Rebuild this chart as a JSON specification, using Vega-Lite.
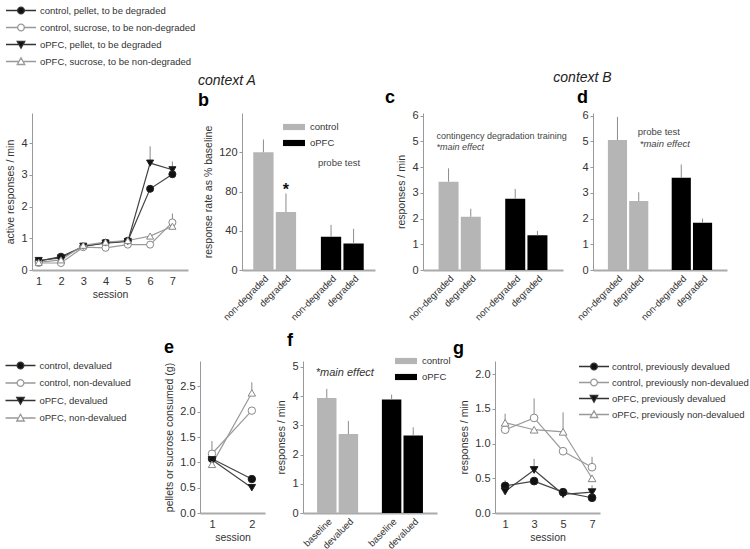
{
  "$schema": "https://vega.github.io/schema/vega-lite/v6.json",
  "autosize": {"type": "none"},
  "padding": {"left": 32, "top": 113, "right": 718, "bottom": 436},
  "background": "white",
  "datasets": {
    "lineA": [
      {"session": 1, "value": 0.28, "upper": 0.28, "group": "control", "treat": "degraded", "series": "control, pellet, to be degraded"},
      {"session": 2, "value": 0.42, "upper": 0.42, "group": "control", "treat": "degraded", "series": "control, pellet, to be degraded"},
      {"session": 3, "value": 0.74, "upper": 0.74, "group": "control", "treat": "degraded", "series": "control, pellet, to be degraded"},
      {"session": 4, "value": 0.86, "upper": 0.86, "group": "control", "treat": "degraded", "series": "control, pellet, to be degraded"},
      {"session": 5, "value": 0.92, "upper": 0.92, "group": "control", "treat": "degraded", "series": "control, pellet, to be degraded"},
      {"session": 6, "value": 2.56, "upper": 2.56, "group": "control", "treat": "degraded", "series": "control, pellet, to be degraded"},
      {"session": 7, "value": 3.02, "upper": 3.02, "group": "control", "treat": "degraded", "series": "control, pellet, to be degraded"},
      {"session": 1, "value": 0.22, "upper": 0.22, "group": "control", "treat": "non-degraded", "series": "control, sucrose, to be non-degraded"},
      {"session": 2, "value": 0.22, "upper": 0.22, "group": "control", "treat": "non-degraded", "series": "control, sucrose, to be non-degraded"},
      {"session": 3, "value": 0.72, "upper": 0.72, "group": "control", "treat": "non-degraded", "series": "control, sucrose, to be non-degraded"},
      {"session": 4, "value": 0.7, "upper": 0.7, "group": "control", "treat": "non-degraded", "series": "control, sucrose, to be non-degraded"},
      {"session": 5, "value": 0.8, "upper": 0.8, "group": "control", "treat": "non-degraded", "series": "control, sucrose, to be non-degraded"},
      {"session": 6, "value": 0.8, "upper": 0.8, "group": "control", "treat": "non-degraded", "series": "control, sucrose, to be non-degraded"},
      {"session": 7, "value": 1.5, "upper": 1.78, "group": "control", "treat": "non-degraded", "series": "control, sucrose, to be non-degraded"},
      {"session": 1, "value": 0.3, "upper": 0.3, "group": "oPFC", "treat": "degraded", "series": "oPFC, pellet, to be degraded"},
      {"session": 2, "value": 0.38, "upper": 0.38, "group": "oPFC", "treat": "degraded", "series": "oPFC, pellet, to be degraded"},
      {"session": 3, "value": 0.75, "upper": 0.75, "group": "oPFC", "treat": "degraded", "series": "oPFC, pellet, to be degraded"},
      {"session": 4, "value": 0.85, "upper": 0.85, "group": "oPFC", "treat": "degraded", "series": "oPFC, pellet, to be degraded"},
      {"session": 5, "value": 0.9, "upper": 0.9, "group": "oPFC", "treat": "degraded", "series": "oPFC, pellet, to be degraded"},
      {"session": 6, "value": 3.37, "upper": 3.9, "group": "oPFC", "treat": "degraded", "series": "oPFC, pellet, to be degraded"},
      {"session": 7, "value": 3.16, "upper": 3.42, "group": "oPFC", "treat": "degraded", "series": "oPFC, pellet, to be degraded"},
      {"session": 1, "value": 0.24, "upper": 0.24, "group": "oPFC", "treat": "non-degraded", "series": "oPFC, sucrose, to be non-degraded"},
      {"session": 2, "value": 0.32, "upper": 0.32, "group": "oPFC", "treat": "non-degraded", "series": "oPFC, sucrose, to be non-degraded"},
      {"session": 3, "value": 0.78, "upper": 0.78, "group": "oPFC", "treat": "non-degraded", "series": "oPFC, sucrose, to be non-degraded"},
      {"session": 4, "value": 0.88, "upper": 0.88, "group": "oPFC", "treat": "non-degraded", "series": "oPFC, sucrose, to be non-degraded"},
      {"session": 5, "value": 0.93, "upper": 0.93, "group": "oPFC", "treat": "non-degraded", "series": "oPFC, sucrose, to be non-degraded"},
      {"session": 6, "value": 1.07, "upper": 1.07, "group": "oPFC", "treat": "non-degraded", "series": "oPFC, sucrose, to be non-degraded"},
      {"session": 7, "value": 1.38, "upper": 1.38, "group": "oPFC", "treat": "non-degraded", "series": "oPFC, sucrose, to be non-degraded"}
    ],
    "lineE": [
      {"session": 1, "value": 1.07, "upper": 1.07, "group": "control", "treat": "devalued", "series": "control, devalued"},
      {"session": 2, "value": 0.67, "upper": 0.67, "group": "control", "treat": "devalued", "series": "control, devalued"},
      {"session": 1, "value": 1.17, "upper": 1.42, "group": "control", "treat": "non-devalued", "series": "control, non-devalued"},
      {"session": 2, "value": 2.02, "upper": 2.02, "group": "control", "treat": "non-devalued", "series": "control, non-devalued"},
      {"session": 1, "value": 1.05, "upper": 1.05, "group": "oPFC", "treat": "devalued", "series": "oPFC, devalued"},
      {"session": 2, "value": 0.5, "upper": 0.5, "group": "oPFC", "treat": "devalued", "series": "oPFC, devalued"},
      {"session": 1, "value": 0.96, "upper": 0.96, "group": "oPFC", "treat": "non-devalued", "series": "oPFC, non-devalued"},
      {"session": 2, "value": 2.37, "upper": 2.58, "group": "oPFC", "treat": "non-devalued", "series": "oPFC, non-devalued"}
    ],
    "lineG": [
      {"session": 1, "value": 0.39, "upper": 0.47, "group": "control", "treat": "devalued", "series": "control, previously devalued"},
      {"session": 3, "value": 0.46, "upper": 0.46, "group": "control", "treat": "devalued", "series": "control, previously devalued"},
      {"session": 5, "value": 0.3, "upper": 0.3, "group": "control", "treat": "devalued", "series": "control, previously devalued"},
      {"session": 7, "value": 0.22, "upper": 0.22, "group": "control", "treat": "devalued", "series": "control, previously devalued"},
      {"session": 1, "value": 1.2, "upper": 1.2, "group": "control", "treat": "non-devalued", "series": "control, previously non-devalued"},
      {"session": 3, "value": 1.37, "upper": 1.65, "group": "control", "treat": "non-devalued", "series": "control, previously non-devalued"},
      {"session": 5, "value": 0.89, "upper": 0.89, "group": "control", "treat": "non-devalued", "series": "control, previously non-devalued"},
      {"session": 7, "value": 0.66, "upper": 0.81, "group": "control", "treat": "non-devalued", "series": "control, previously non-devalued"},
      {"session": 1, "value": 0.31, "upper": 0.31, "group": "oPFC", "treat": "devalued", "series": "oPFC, previously devalued"},
      {"session": 3, "value": 0.62, "upper": 0.78, "group": "oPFC", "treat": "devalued", "series": "oPFC, previously devalued"},
      {"session": 5, "value": 0.27, "upper": 0.27, "group": "oPFC", "treat": "devalued", "series": "oPFC, previously devalued"},
      {"session": 7, "value": 0.3, "upper": 0.4, "group": "oPFC", "treat": "devalued", "series": "oPFC, previously devalued"},
      {"session": 1, "value": 1.3, "upper": 1.43, "group": "oPFC", "treat": "non-devalued", "series": "oPFC, previously non-devalued"},
      {"session": 3, "value": 1.2, "upper": 1.2, "group": "oPFC", "treat": "non-devalued", "series": "oPFC, previously non-devalued"},
      {"session": 5, "value": 1.17, "upper": 1.45, "group": "oPFC", "treat": "non-devalued", "series": "oPFC, previously non-devalued"},
      {"session": 7, "value": 0.5, "upper": 0.5, "group": "oPFC", "treat": "non-devalued", "series": "oPFC, previously non-devalued"}
    ],
    "barB": [
      {"bar": "control|non-degraded", "group": "control", "value": 120, "upper": 133},
      {"bar": "control|degraded", "group": "control", "value": 59, "upper": 78},
      {"bar": "oPFC|non-degraded", "group": "oPFC", "value": 34, "upper": 46},
      {"bar": "oPFC|degraded", "group": "oPFC", "value": 27, "upper": 42}
    ],
    "barC": [
      {"bar": "control|non-degraded", "group": "control", "value": 3.43, "upper": 3.95},
      {"bar": "control|degraded", "group": "control", "value": 2.07, "upper": 2.38},
      {"bar": "oPFC|non-degraded", "group": "oPFC", "value": 2.77, "upper": 3.15},
      {"bar": "oPFC|degraded", "group": "oPFC", "value": 1.35, "upper": 1.52}
    ],
    "barD": [
      {"bar": "control|non-degraded", "group": "control", "value": 5.05, "upper": 5.95},
      {"bar": "control|degraded", "group": "control", "value": 2.68, "upper": 3.02},
      {"bar": "oPFC|non-degraded", "group": "oPFC", "value": 3.58, "upper": 4.1},
      {"bar": "oPFC|degraded", "group": "oPFC", "value": 1.84, "upper": 2.0}
    ],
    "barF": [
      {"bar": "control|baseline", "group": "control", "value": 3.93, "upper": 4.25},
      {"bar": "control|devalued", "group": "control", "value": 2.7, "upper": 3.15},
      {"bar": "oPFC|baseline", "group": "oPFC", "value": 3.88, "upper": 4.05},
      {"bar": "oPFC|devalued", "group": "oPFC", "value": 2.65, "upper": 2.93}
    ]
  },
  "config": {
    "font": "Liberation Sans, Arial, sans-serif",
    "view": {"stroke": null},
    "axis": {"labelFont": "Liberation Sans, Arial, sans-serif", "labelFontSize": 11, "labelColor": "#333", "titleFont": "Liberation Sans, Arial, sans-serif", "titleFontSize": 10.5, "titleFontWeight": "normal", "titleColor": "#333", "domainColor": "#999", "tickColor": "#999", "tickSize": 3, "grid": false, "labelPadding": 2, "titlePadding": 5},
    "axisX": {"domainWidth": 2, "domainColor": "#aaa", "ticks": false, "labelPadding": 5, "titlePadding": 3},
    "axisBand": {"labelFontSize": 9.5, "labelPadding": 3},
    "title": {"font": "Liberation Sans, Arial, sans-serif", "fontSize": 18, "fontWeight": "bold", "color": "#000", "anchor": "start", "frame": "group", "offset": 3},
    "legend": {"padding": 0, "labelColor": "#333", "labelFont": "Liberation Sans, Arial, sans-serif"}
  },
  "resolve": {"scale": {"color": "independent", "shape": "independent", "fill": "independent", "stroke": "independent"}, "legend": {"color": "independent", "shape": "independent", "fill": "independent", "stroke": "independent"}},
  "spacing": 10,
  "vconcat": [
    {
      "bounds": "flush",
      "spacing": 0,
      "resolve": {"scale": {"color": "independent", "shape": "independent", "fill": "independent", "stroke": "independent"}, "legend": {"color": "independent", "shape": "independent", "fill": "independent", "stroke": "independent"}},
      "hconcat": [
        {
          "width": 156, "height": 157,
          "title": {"text": "a", "dx": -29},
          "data": {"name": "lineA"},
          "encoding": {
            "x": {"field": "session", "type": "quantitative", "scale": {"domain": [0.7, 7.7], "nice": false, "zero": false}, "axis": {"values": [1, 2, 3, 4, 5, 6, 7], "format": "d", "title": "session"}},
            "y": {"field": "value", "type": "quantitative", "scale": {"domain": [0, 4.95], "nice": false}, "axis": {"values": [0, 1, 2, 3, 4], "title": "active responses / min"}}
          },
          "layer": [
            {"mark": {"type": "line", "strokeWidth": 1.2}, "encoding": {"detail": {"field": "series"}, "stroke": {"condition": {"test": "datum.treat=='degraded'", "value": "#444"}, "value": "#9a9a9a"}}},
            {"mark": {"type": "rule", "color": "#888", "strokeWidth": 1}, "encoding": {"y2": {"field": "upper"}}},
            {"mark": {"type": "point", "filled": true, "size": 50, "strokeWidth": 1, "opacity": 1},
             "encoding": {
               "shape": {"condition": [{"test": "datum.group=='control'", "value": "circle"}, {"test": "datum.treat=='degraded'", "value": "triangle-down"}], "value": "triangle-up"},
               "fill": {"condition": {"test": "datum.treat=='degraded'", "value": "#111"}, "value": "#fff"},
               "stroke": {"condition": {"test": "datum.treat=='degraded'", "value": "#222"}, "value": "#888"}
             }},
            {"data": {"values": []}, "mark": {"type": "point", "filled": true, "size": 225, "opacity": 1},
             "encoding": {
               "x": {"value": 0}, "y": {"value": 0},
               "shape": {"field": "series", "type": "nominal", "scale": {"domain": ["control, pellet, to be degraded", "control, sucrose, to be non-degraded", "oPFC, pellet, to be degraded", "oPFC, sucrose, to be non-degraded"], "range": ["M-2,0L-0.45,0M0.45,0L2,0M0.45,0A0.45,0.45,0,1,1,-0.45,0A0.45,0.45,0,1,1,0.45,0Z", "M-2,0L-0.45,0M0.45,0L2,0M0.45,0A0.45,0.45,0,1,1,-0.45,0A0.45,0.45,0,1,1,0.45,0Z", "M-2,0L-0.3,0M0.3,0L2,0M-0.5,-0.4L0.5,-0.4L0,0.5Z", "M-2,0L-0.3,0M0.3,0L2,0M-0.5,0.4L0.5,0.4L0,-0.5Z"]},
                 "legend": {"title": null, "orient": "none", "legendX": -19.5, "legendY": -111, "labelOffset": 10.5, "rowPadding": 2, "symbolSize": 225, "symbolStrokeWidth": 1.3, "symbolOpacity": 1, "labelFontSize": 9.5, "labelLimit": 300}},
               "fill": {"field": "series", "type": "nominal", "scale": {"domain": ["control, pellet, to be degraded", "control, sucrose, to be non-degraded", "oPFC, pellet, to be degraded", "oPFC, sucrose, to be non-degraded"], "range": ["#111", "#fff", "#111", "#fff"]},
                 "legend": {"title": null, "orient": "none", "legendX": -19.5, "legendY": -111, "labelOffset": 10.5, "rowPadding": 2, "symbolSize": 225, "symbolStrokeWidth": 1.3, "symbolOpacity": 1, "labelFontSize": 9.5, "labelLimit": 300}},
               "stroke": {"field": "series", "type": "nominal", "scale": {"domain": ["control, pellet, to be degraded", "control, sucrose, to be non-degraded", "oPFC, pellet, to be degraded", "oPFC, sucrose, to be non-degraded"], "range": ["#333", "#999", "#333", "#999"]},
                 "legend": {"title": null, "orient": "none", "legendX": -19.5, "legendY": -111, "labelOffset": 10.5, "rowPadding": 2, "symbolSize": 225, "symbolStrokeWidth": 1.3, "symbolOpacity": 1, "labelFontSize": 9.5, "labelLimit": 300}}
             }}
          ]
        },
        {"width": 54, "height": 157, "data": {"values": []}, "mark": "point"},
        {
          "width": 133, "height": 157,
          "title": {"text": "context A", "subtitle": "\u2002b", "dx": -44, "fontSize": 14, "fontStyle": "italic", "fontWeight": "normal", "color": "#222", "subtitleFont": "Liberation Sans, Arial, sans-serif", "subtitleFontSize": 18, "subtitleFontWeight": "bold", "subtitleColor": "#000", "subtitlePadding": 4},
          "data": {"name": "barB"},
          "encoding": {
            "x": {"field": "bar", "type": "nominal", "sort": null, "scale": {"domain": ["control|non-degraded", "control|degraded", "gap|", "oPFC|non-degraded", "oPFC|degraded"], "paddingInner": 0.1, "paddingOuter": 0.5}, "axis": {"title": null, "labelAngle": -45, "labelExpr": "split(datum.value, '|')[1]"}},
            "y": {"field": "value", "type": "quantitative", "scale": {"domain": [0, 160], "nice": false}, "axis": {"values": [0, 40, 80, 120], "title": "response rate as % baseline"}}
          },
          "layer": [
            {"mark": {"type": "bar"}, "encoding": {"color": {"field": "group", "type": "nominal", "scale": {"domain": ["control", "oPFC"], "range": ["#b5b5b5", "#000000"]}, "legend": {"title": null, "orient": "none", "legendX": 41, "legendY": 3, "symbolType": "M-1,-0.28H1V0.28H-1Z", "symbolSize": 484, "labelOffset": 5, "rowPadding": -1, "labelFontSize": 9.5, "symbolStrokeWidth": 0}}}},
            {"mark": {"type": "rule", "color": "#8c8c8c", "strokeWidth": 1}, "encoding": {"y": {"field": "value", "type": "quantitative"}, "y2": {"field": "upper"}}},
            {"transform": [{"filter": "datum.bar == 'oPFC|non-degraded'"}], "mark": {"type": "text", "dx": 8, "font": "Liberation Sans, Arial, sans-serif", "fontSize": 9.5, "fontWeight": "normal", "fill": "#444"}, "encoding": {"y": {"datum": 109}, "text": {"value": "probe test"}}},
            {"transform": [{"filter": "datum.bar == 'control|degraded'"}], "mark": {"type": "text", "fontSize": 16, "fontWeight": "bold", "fill": "#111"}, "encoding": {"y": {"datum": 82}, "text": {"value": "*"}}}
          ]
        },
        {"width": 48, "height": 157, "data": {"values": []}, "mark": "point"},
        {
          "width": 140, "height": 157,
          "title": {"text": "c", "dx": -38},
          "data": {"name": "barC"},
          "encoding": {
            "x": {"field": "bar", "type": "nominal", "sort": null, "scale": {"domain": ["control|non-degraded", "control|degraded", "gap|", "oPFC|non-degraded", "oPFC|degraded"], "paddingInner": 0.1, "paddingOuter": 0.7}, "axis": {"title": null, "labelAngle": -45, "labelExpr": "split(datum.value, '|')[1]"}},
            "y": {"field": "value", "type": "quantitative", "scale": {"domain": [0, 6.1], "nice": false}, "axis": {"values": [0, 1, 2, 3, 4, 5, 6], "title": "responses / min"}}
          },
          "layer": [
            {"mark": {"type": "bar"}, "encoding": {"color": {"field": "group", "type": "nominal", "scale": {"domain": ["control", "oPFC"], "range": ["#b5b5b5", "#000000"]}, "legend": null}}},
            {"mark": {"type": "rule", "color": "#8c8c8c", "strokeWidth": 1}, "encoding": {"y": {"field": "value", "type": "quantitative"}, "y2": {"field": "upper"}}},
            {"transform": [{"filter": "datum.bar == 'control|non-degraded'"}], "mark": {"type": "text", "align": "left", "dx": -12, "font": "Liberation Sans, Arial, sans-serif", "fontSize": 9, "fontWeight": "normal", "fill": "#444"}, "encoding": {"y": {"datum": 5.19}, "text": {"value": "contingency degradation training"}}},
            {"transform": [{"filter": "datum.bar == 'control|non-degraded'"}], "mark": {"type": "text", "align": "left", "dx": -12, "font": "Liberation Sans, Arial, sans-serif", "fontSize": 9, "fontWeight": "normal", "fontStyle": "italic", "fill": "#444"}, "encoding": {"y": {"datum": 4.77}, "text": {"value": "*main effect"}}}
          ]
        },
        {"width": 30, "height": 157, "data": {"values": []}, "mark": "point"},
        {
          "width": 134, "height": 157,
          "title": {"text": "context B", "subtitle": "d", "align": "center", "dx": -10.5, "fontSize": 14, "fontStyle": "italic", "fontWeight": "normal", "color": "#222", "subtitleFont": "Liberation Sans, Arial, sans-serif", "subtitleFontSize": 18, "subtitleFontWeight": "bold", "subtitleColor": "#000", "subtitlePadding": 4},
          "data": {"name": "barD"},
          "encoding": {
            "x": {"field": "bar", "type": "nominal", "sort": null, "scale": {"domain": ["control|non-degraded", "control|degraded", "gap|", "oPFC|non-degraded", "oPFC|degraded"], "paddingInner": 0.1, "paddingOuter": 0.7}, "axis": {"title": null, "labelAngle": -45, "labelExpr": "split(datum.value, '|')[1]"}},
            "y": {"field": "value", "type": "quantitative", "scale": {"domain": [0, 6.1], "nice": false}, "axis": {"values": [0, 1, 2, 3, 4, 5, 6], "title": null}}
          },
          "layer": [
            {"mark": {"type": "bar"}, "encoding": {"color": {"field": "group", "type": "nominal", "scale": {"domain": ["control", "oPFC"], "range": ["#b5b5b5", "#000000"]}, "legend": null}}},
            {"mark": {"type": "rule", "color": "#8c8c8c", "strokeWidth": 1}, "encoding": {"y": {"field": "value", "type": "quantitative"}, "y2": {"field": "upper"}}},
            {"transform": [{"filter": "datum.bar == 'control|degraded'"}], "mark": {"type": "text", "align": "left", "dx": -1, "font": "Liberation Sans, Arial, sans-serif", "fontSize": 9.5, "fontWeight": "normal", "fill": "#444"}, "encoding": {"y": {"datum": 5.35}, "text": {"value": "probe test"}}},
            {"transform": [{"filter": "datum.bar == 'control|degraded'"}], "mark": {"type": "text", "align": "left", "dx": 1, "font": "Liberation Sans, Arial, sans-serif", "fontSize": 9.5, "fontWeight": "normal", "fontStyle": "italic", "fill": "#444"}, "encoding": {"y": {"datum": 4.88}, "text": {"value": "*main effect"}}}
          ]
        }
      ]
    },
    {
      "bounds": "flush",
      "spacing": 0,
      "resolve": {"scale": {"color": "independent", "shape": "independent", "fill": "independent", "stroke": "independent"}, "legend": {"color": "independent", "shape": "independent", "fill": "independent", "stroke": "independent"}},
      "hconcat": [
        {"width": 168, "height": 152, "data": {"values": []}, "mark": "point"},
        {
          "width": 65, "height": 152,
          "title": {"text": "e", "dx": -36, "offset": 0},
          "data": {"name": "lineE"},
          "encoding": {
            "x": {"field": "session", "type": "quantitative", "scale": {"domain": [0.7, 2.33], "nice": false, "zero": false}, "axis": {"values": [1, 2], "format": "d", "title": "session"}},
            "y": {"field": "value", "type": "quantitative", "scale": {"domain": [0, 3.0], "nice": false}, "axis": {"values": [0, 0.5, 1, 1.5, 2, 2.5], "format": ".1f", "title": "pellets or sucrose consumed (g)"}}
          },
          "layer": [
            {"mark": {"type": "line", "strokeWidth": 1.2}, "encoding": {"detail": {"field": "series"}, "stroke": {"condition": {"test": "datum.treat=='devalued'", "value": "#444"}, "value": "#9a9a9a"}}},
            {"mark": {"type": "rule", "color": "#888", "strokeWidth": 1}, "encoding": {"y2": {"field": "upper"}}},
            {"mark": {"type": "point", "filled": true, "size": 55, "strokeWidth": 1, "opacity": 1},
             "encoding": {
               "shape": {"condition": [{"test": "datum.group=='control'", "value": "circle"}, {"test": "datum.treat=='devalued'", "value": "triangle-down"}], "value": "triangle-up"},
               "fill": {"condition": {"test": "datum.treat=='devalued'", "value": "#111"}, "value": "#fff"},
               "stroke": {"condition": {"test": "datum.treat=='devalued'", "value": "#222"}, "value": "#888"}
             }},
            {"data": {"values": []}, "mark": {"type": "point", "filled": true, "size": 225, "opacity": 1},
             "encoding": {
               "x": {"value": 0}, "y": {"value": 0},
               "shape": {"field": "series", "type": "nominal", "scale": {"domain": ["control, devalued", "control, non-devalued", "oPFC, devalued", "oPFC, non-devalued"], "range": ["M-2,0L-0.45,0M0.45,0L2,0M0.45,0A0.45,0.45,0,1,1,-0.45,0A0.45,0.45,0,1,1,0.45,0Z", "M-2,0L-0.45,0M0.45,0L2,0M0.45,0A0.45,0.45,0,1,1,-0.45,0A0.45,0.45,0,1,1,0.45,0Z", "M-2,0L-0.3,0M0.3,0L2,0M-0.5,-0.4L0.5,-0.4L0,0.5Z", "M-2,0L-0.3,0M0.3,0L2,0M-0.5,0.4L0.5,0.4L0,-0.5Z"]},
                 "legend": {"title": null, "orient": "none", "legendX": -188, "legendY": -4, "labelOffset": 10.5, "rowPadding": 2.5, "symbolSize": 225, "symbolStrokeWidth": 1.3, "symbolOpacity": 1, "labelFontSize": 9.5, "labelLimit": 300}},
               "fill": {"field": "series", "type": "nominal", "scale": {"domain": ["control, devalued", "control, non-devalued", "oPFC, devalued", "oPFC, non-devalued"], "range": ["#111", "#fff", "#111", "#fff"]},
                 "legend": {"title": null, "orient": "none", "legendX": -188, "legendY": -4, "labelOffset": 10.5, "rowPadding": 2.5, "symbolSize": 225, "symbolStrokeWidth": 1.3, "symbolOpacity": 1, "labelFontSize": 9.5, "labelLimit": 300}},
               "stroke": {"field": "series", "type": "nominal", "scale": {"domain": ["control, devalued", "control, non-devalued", "oPFC, devalued", "oPFC, non-devalued"], "range": ["#333", "#999", "#333", "#999"]},
                 "legend": {"title": null, "orient": "none", "legendX": -188, "legendY": -4, "labelOffset": 10.5, "rowPadding": 2.5, "symbolSize": 225, "symbolStrokeWidth": 1.3, "symbolOpacity": 1, "labelFontSize": 9.5, "labelLimit": 300}}
             }}
          ]
        },
        {"width": 38, "height": 152, "data": {"values": []}, "mark": "point"},
        {
          "width": 134, "height": 152,
          "title": {"text": "f", "dx": -16, "offset": 0},
          "data": {"name": "barF"},
          "encoding": {
            "x": {"field": "bar", "type": "nominal", "sort": null, "scale": {"domain": ["control|baseline", "control|devalued", "gap|", "oPFC|baseline", "oPFC|devalued"], "paddingInner": 0.1, "paddingOuter": 0.65}, "axis": {"title": null, "labelAngle": -45, "labelExpr": "split(datum.value, '|')[1]"}},
            "y": {"field": "value", "type": "quantitative", "scale": {"domain": [0, 5.2], "nice": false}, "axis": {"values": [0, 1, 2, 3, 4, 5], "title": "responses / min"}}
          },
          "layer": [
            {"mark": {"type": "bar"}, "encoding": {"color": {"field": "group", "type": "nominal", "scale": {"domain": ["control", "oPFC"], "range": ["#b5b5b5", "#000000"]}, "legend": {"title": null, "orient": "none", "legendX": 92, "legendY": -11, "symbolType": "M-1,-0.28H1V0.28H-1Z", "symbolSize": 484, "labelOffset": 5, "rowPadding": -1, "labelFontSize": 9.5, "symbolStrokeWidth": 0}}}},
            {"mark": {"type": "rule", "color": "#8c8c8c", "strokeWidth": 1}, "encoding": {"y": {"field": "value", "type": "quantitative"}, "y2": {"field": "upper"}}},
            {"transform": [{"filter": "datum.bar == 'control|baseline'"}], "mark": {"type": "text", "align": "left", "dx": -11, "font": "Liberation Sans, Arial, sans-serif", "fontSize": 11, "fontWeight": "normal", "fontStyle": "italic", "fill": "#333"}, "encoding": {"y": {"datum": 4.8}, "text": {"value": "*main effect"}}}
          ]
        },
        {"width": 58, "height": 152, "data": {"values": []}, "mark": "point"},
        {
          "width": 105, "height": 152,
          "title": {"text": "g", "dx": -42, "offset": 0},
          "data": {"name": "lineG"},
          "encoding": {
            "x": {"field": "session", "type": "quantitative", "scale": {"domain": [0.3, 7.55], "nice": false, "zero": false}, "axis": {"values": [1, 3, 5, 7], "format": "d", "title": "session"}},
            "y": {"field": "value", "type": "quantitative", "scale": {"domain": [0, 2.19], "nice": false}, "axis": {"values": [0, 0.5, 1, 1.5, 2], "format": ".1f", "title": "responses / min"}}
          },
          "layer": [
            {"mark": {"type": "line", "strokeWidth": 1.2}, "encoding": {"detail": {"field": "series"}, "stroke": {"condition": {"test": "datum.treat=='devalued'", "value": "#444"}, "value": "#9a9a9a"}}},
            {"mark": {"type": "rule", "color": "#888", "strokeWidth": 1}, "encoding": {"y2": {"field": "upper"}}},
            {"mark": {"type": "point", "filled": true, "size": 60, "strokeWidth": 1, "opacity": 1},
             "encoding": {
               "shape": {"condition": [{"test": "datum.group=='control'", "value": "circle"}, {"test": "datum.treat=='devalued'", "value": "triangle-down"}], "value": "triangle-up"},
               "fill": {"condition": {"test": "datum.treat=='devalued'", "value": "#111"}, "value": "#fff"},
               "stroke": {"condition": {"test": "datum.treat=='devalued'", "value": "#222"}, "value": "#888"}
             }},
            {"data": {"values": []}, "mark": {"type": "point", "filled": true, "size": 225, "opacity": 1},
             "encoding": {
               "x": {"value": 0}, "y": {"value": 0},
               "shape": {"field": "series", "type": "nominal", "scale": {"domain": ["control, previously devalued", "control, previously non-devalued", "oPFC, previously devalued", "oPFC, previously non-devalued"], "range": ["M-2,0L-0.45,0M0.45,0L2,0M0.45,0A0.45,0.45,0,1,1,-0.45,0A0.45,0.45,0,1,1,0.45,0Z", "M-2,0L-0.45,0M0.45,0L2,0M0.45,0A0.45,0.45,0,1,1,-0.45,0A0.45,0.45,0,1,1,0.45,0Z", "M-2,0L-0.3,0M0.3,0L2,0M-0.5,-0.4L0.5,-0.4L0,0.5Z", "M-2,0L-0.3,0M0.3,0L2,0M-0.5,0.4L0.5,0.4L0,-0.5Z"]},
                 "legend": {"title": null, "orient": "none", "legendX": 90.5, "legendY": -3, "labelOffset": 9.5, "rowPadding": 1, "symbolSize": 225, "symbolStrokeWidth": 1.3, "symbolOpacity": 1, "labelFontSize": 9.5, "labelLimit": 300}},
               "fill": {"field": "series", "type": "nominal", "scale": {"domain": ["control, previously devalued", "control, previously non-devalued", "oPFC, previously devalued", "oPFC, previously non-devalued"], "range": ["#111", "#fff", "#111", "#fff"]},
                 "legend": {"title": null, "orient": "none", "legendX": 90.5, "legendY": -3, "labelOffset": 9.5, "rowPadding": 1, "symbolSize": 225, "symbolStrokeWidth": 1.3, "symbolOpacity": 1, "labelFontSize": 9.5, "labelLimit": 300}},
               "stroke": {"field": "series", "type": "nominal", "scale": {"domain": ["control, previously devalued", "control, previously non-devalued", "oPFC, previously devalued", "oPFC, previously non-devalued"], "range": ["#333", "#999", "#333", "#999"]},
                 "legend": {"title": null, "orient": "none", "legendX": 90.5, "legendY": -3, "labelOffset": 9.5, "rowPadding": 1, "symbolSize": 225, "symbolStrokeWidth": 1.3, "symbolOpacity": 1, "labelFontSize": 9.5, "labelLimit": 300}}
             }}
          ]
        }
      ]
    }
  ]
}
